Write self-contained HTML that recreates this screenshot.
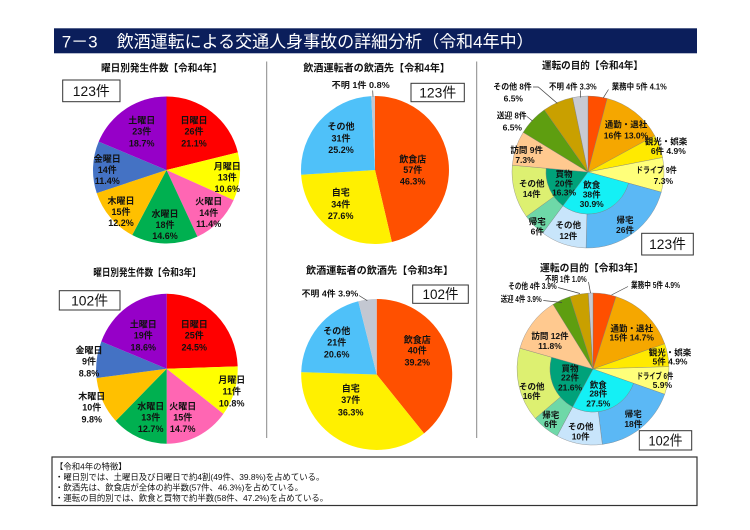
<!DOCTYPE html>
<html><head><meta charset="utf-8"><style>
html,body{margin:0;padding:0;background:#fff;}
svg{display:block;font-family:"Liberation Sans","Noto Sans CJK JP",sans-serif;}
.l{font-size:9px;font-weight:bold;fill:#111;text-anchor:middle;dominant-baseline:central;}
.s{font-size:8.5px;font-weight:bold;fill:#111;dominant-baseline:central;}
.sm{font-size:8.5px;font-weight:bold;fill:#111;text-anchor:middle;dominant-baseline:central;}
.t{font-size:10px;font-weight:bold;fill:#111;dominant-baseline:central;}
.b{font-size:14px;fill:#111;text-anchor:middle;dominant-baseline:central;}
.n{font-size:8.4px;fill:#111;dominant-baseline:central;}
</style></head><body>
<svg width="750" height="530" viewBox="0 0 750 530" xmlns="http://www.w3.org/2000/svg">
<rect width="750" height="530" fill="#fff"/>
<!-- title -->
<rect x="54" y="28.3" width="643" height="25" fill="#0B1E5B"/>
<text x="61.7" y="47.5" font-size="17" fill="#fff">7－3</text>
<text x="116.7" y="47.5" font-size="17" fill="#fff">飲酒運転による交通人身事故の詳細分析（令和4年中）</text>

<!-- separators -->
<line x1="266.7" y1="61.5" x2="266.7" y2="438" stroke="#888" stroke-width="1"/>
<line x1="476.7" y1="61.5" x2="476.7" y2="438" stroke="#888" stroke-width="1"/>

<!-- subtitles -->
<text class="t" x="101" y="69" textLength="121" lengthAdjust="spacingAndGlyphs">曜日別発生件数【令和4年】</text>
<text class="t" x="303.3" y="69" textLength="146.7" lengthAdjust="spacingAndGlyphs">飲酒運転者の飲酒先【令和4年】</text>
<text class="t" x="542" y="66.5" textLength="101" lengthAdjust="spacingAndGlyphs">運転の目的【令和4年】</text>
<text class="t" x="93.3" y="273.3" textLength="107.4" lengthAdjust="spacingAndGlyphs">曜日別発生件数【令和3年】</text>
<text class="t" x="306" y="271.7" textLength="147.3" lengthAdjust="spacingAndGlyphs">飲酒運転者の飲酒先【令和3年】</text>
<text class="t" x="540" y="269" textLength="103.3" lengthAdjust="spacingAndGlyphs">運転の目的【令和3年】</text>

<!-- Pie 1: day R4 -->
<g>
<path d="M166.5,170 L166.5,96.5 A73.5,73.5 0 0 1 237.85,152.34 Z" fill="#FF0000"/>
<path d="M166.5,170 L237.85,152.34 A73.5,73.5 0 0 1 233.57,200.07 Z" fill="#FFFF00"/>
<path d="M166.5,170 L233.57,200.07 A73.5,73.5 0 0 1 197.42,236.68 Z" fill="#FF66B3"/>
<path d="M166.5,170 L197.42,236.68 A73.5,73.5 0 0 1 132.21,235.01 Z" fill="#00B050"/>
<path d="M166.5,170 L132.21,235.01 A73.5,73.5 0 0 1 96.71,193.07 Z" fill="#FFC000"/>
<path d="M166.5,170 L96.71,193.07 A73.5,73.5 0 0 1 98.69,141.65 Z" fill="#4472C4"/>
<path d="M166.5,170 L98.69,141.65 A73.5,73.5 0 0 1 166.5,96.5 Z" fill="#9600C8"/>
</g>
<text class="l" x="194" y="120.7">日曜日</text><text class="l" x="194" y="131.7">26件</text><text class="l" x="194" y="143.3">21.1%</text>
<text class="l" x="141.7" y="120.7">土曜日</text><text class="l" x="141.7" y="131.7">23件</text><text class="l" x="141.7" y="143.3">18.7%</text>
<text class="l" x="227.3" y="166.7">月曜日</text><text class="l" x="227.3" y="177.7">13件</text><text class="l" x="227.3" y="189">10.6%</text>
<text class="l" x="107.3" y="159">金曜日</text><text class="l" x="107.3" y="170">14件</text><text class="l" x="107.3" y="181">11.4%</text>
<text class="l" x="208.7" y="201.7">火曜日</text><text class="l" x="208.7" y="213">14件</text><text class="l" x="208.7" y="224">11.4%</text>
<text class="l" x="165" y="214">水曜日</text><text class="l" x="165" y="225">18件</text><text class="l" x="165" y="236">14.6%</text>
<text class="l" x="121" y="201">木曜日</text><text class="l" x="121" y="212">15件</text><text class="l" x="121" y="223">12.2%</text>
<rect x="62.7" y="80" width="57.3" height="21.7" fill="#fff" stroke="#333" stroke-width="1"/>
<text class="b" x="91.3" y="91" textLength="37" lengthAdjust="spacingAndGlyphs">123件</text>

<!-- Pie 2: drink place R4 -->
<g>
<path d="M375,170 L375,96 A74,74 0 0 1 391.86,242.05 Z" fill="#FF5000"/>
<path d="M375,170 L391.86,242.05 A74,74 0 0 1 301.15,174.72 Z" fill="#FFF000"/>
<path d="M375,170 L301.15,174.72 A74,74 0 0 1 371.22,96.1 Z" fill="#4FC1F9"/>
<path d="M375,170 L371.22,96.1 A74,74 0 0 1 375,96 Z" fill="#C3C7D1"/>
</g>
<text class="l" x="412.7" y="159.3">飲食店</text><text class="l" x="412.7" y="170">57件</text><text class="l" x="412.7" y="181.7">46.3%</text>
<text class="l" x="340.7" y="192.7">自宅</text><text class="l" x="340.7" y="204.7">34件</text><text class="l" x="340.7" y="216">27.6%</text>
<text class="l" x="341" y="126.7">その他</text><text class="l" x="341" y="138.7">31件</text><text class="l" x="341" y="150">25.2%</text>
<text class="s" x="331.7" y="85" textLength="58" lengthAdjust="spacingAndGlyphs">不明 1件 0.8%</text>
<line x1="372.7" y1="90.5" x2="373" y2="96.5" stroke="#444" stroke-width="0.7"/>
<rect x="411" y="83.3" width="53.3" height="18.4" fill="#fff" stroke="#333" stroke-width="1"/>
<text class="b" x="437.7" y="92.5" textLength="37" lengthAdjust="spacingAndGlyphs">123件</text>

<!-- Pie 3: purpose R4 -->
<g stroke="#7a7a7a" stroke-width="0.35">
<path d="M588,172 L588,96 A76,76 0 0 1 607.20,98.46 Z" fill="#FF4F00"/>
<path d="M588,172 L607.20,98.46 A76,76 0 0 1 654.77,135.69 Z" fill="#F5A700"/>
<path d="M588,172 L654.77,135.69 A76,76 0 0 1 662.61,157.53 Z" fill="#FFEA00"/>
<path d="M588,172 L662.61,157.53 A76,76 0 0 1 661.29,192.14 Z" fill="#FFFF7A"/>
<path d="M661.29,192.14 A76,76 0 0 1 586.06,247.97 L586.93,213.99 A42,42 0 0 0 628.50,183.13 Z" fill="#5BB8F5"/>
<path d="M586.06,247.97 A76,76 0 0 1 542.70,233.03 L562.97,205.73 A42,42 0 0 0 586.93,213.99 Z" fill="#C8E5FB"/>
<path d="M542.70,233.03 A76,76 0 0 1 526.40,216.52 L553.96,196.60 A42,42 0 0 0 562.97,205.73 Z" fill="#6ED8A8"/>
<path d="M526.40,216.52 A76,76 0 0 1 512.30,165.21 L546.17,168.25 A42,42 0 0 0 553.96,196.60 Z" fill="#DDF071"/>
<path d="M588,172 L628.50,183.13 A42,42 0 0 1 562.97,205.73 Z" fill="#14F0F5"/>
<path d="M588,172 L562.97,205.73 A42,42 0 0 1 546.17,168.25 Z" fill="#00A27A"/>
<path d="M588,172 L512.30,165.21 A76,76 0 0 1 523.17,132.33 Z" fill="#FFC98F"/>
<path d="M588,172 L523.17,132.33 A76,76 0 0 1 544.28,109.84 Z" fill="#5E9E10"/>
<path d="M588,172 L544.28,109.84 A76,76 0 0 1 572.58,97.58 Z" fill="#C9A000"/>
<path d="M588,172 L572.58,97.58 A76,76 0 0 1 588,96 Z" fill="#C8CAD2"/>
</g>
<g stroke="#444" stroke-width="0.7" fill="none">
<line x1="608.5" y1="89.5" x2="603.3" y2="97.8"/>
<line x1="580.5" y1="90.5" x2="580.5" y2="97.5"/>
<polyline points="533,87 538.3,87 557.3,103.3"/>
<polyline points="527,116.5 532.5,121"/>
</g>
<text class="s" x="611.7" y="86.7" textLength="55" lengthAdjust="spacingAndGlyphs">業務中 5件 4.1%</text>
<text class="s" x="549" y="86.7" textLength="47.7" lengthAdjust="spacingAndGlyphs">不明 4件 3.3%</text>
<text class="s" x="493.3" y="86.7" textLength="38.4" lengthAdjust="spacingAndGlyphs">その他 8件</text>
<text class="sm" x="513.3" y="98.3">6.5%</text>
<text class="s" x="496.7" y="115.7" textLength="30" lengthAdjust="spacingAndGlyphs">送迎 8件</text>
<text class="sm" x="512.3" y="127.3">6.5%</text>
<text class="sm" x="626" y="124.3">通勤・退社</text>
<text class="sm" x="626" y="135.7">16件 13.0%</text>
<text class="sm" x="666" y="141.7">観光・娯楽</text>
<text class="sm" x="668.3" y="151">6件 4.9%</text>
<text class="s" x="636" y="170" textLength="40.7" lengthAdjust="spacingAndGlyphs">ドライブ 9件</text>
<text class="s" x="673" y="181" text-anchor="end">7.3%</text>
<text class="sm" x="526.7" y="150">訪問 9件</text>
<text class="sm" x="525" y="160">7.3%</text>
<text class="sm" x="531.7" y="183.3">その他</text>
<text class="sm" x="531.7" y="194">14件</text>
<text class="sm" x="564" y="174">買物</text><text class="sm" x="564" y="183.3">20件</text><text class="sm" x="564" y="192.7">16.3%</text>
<text class="sm" x="591.7" y="185">飲食</text><text class="sm" x="591.7" y="194.3">38件</text><text class="sm" x="591.7" y="204">30.9%</text>
<text class="sm" x="625" y="220">帰宅</text><text class="sm" x="625" y="230">26件</text>
<text class="sm" x="568.3" y="225">その他</text><text class="sm" x="568.3" y="236">12件</text>
<text class="sm" x="537.3" y="221.7">帰宅</text><text class="sm" x="537.3" y="231.7">6件</text>
<rect x="641.7" y="233.3" width="51.6" height="21.7" fill="#fff" stroke="#333" stroke-width="1"/>
<text class="b" x="667.5" y="244.2" textLength="36.7" lengthAdjust="spacingAndGlyphs">123件</text>

<!-- Pie 4: day R3 -->
<g>
<path d="M166.7,368.7 L166.7,293.7 A71,75 0 0 1 237.67,366.39 Z" fill="#FF0000"/>
<path d="M166.7,368.7 L237.67,366.39 A71,75 0 0 1 223.36,413.90 Z" fill="#FFFF00"/>
<path d="M166.7,368.7 L223.36,413.90 A71,75 0 0 1 166.7,443.7 Z" fill="#FF66B3"/>
<path d="M166.7,368.7 L166.7,443.7 A71,75 0 0 1 115.73,420.91 Z" fill="#00B050"/>
<path d="M166.7,368.7 L115.73,420.91 A71,75 0 0 1 96.54,378 Z" fill="#FFC000"/>
<path d="M166.7,368.7 L96.54,378 A71,75 0 0 1 101.32,341.5 Z" fill="#4472C4"/>
<path d="M166.7,368.7 L101.32,341.5 A71,75 0 0 1 166.7,293.7 Z" fill="#9600C8"/>
</g>
<text class="l" x="194.3" y="324.3">日曜日</text><text class="l" x="194.3" y="335.7">25件</text><text class="l" x="194.3" y="347.7">24.5%</text>
<text class="l" x="143.3" y="324.3">土曜日</text><text class="l" x="143.3" y="335.7">19件</text><text class="l" x="143.3" y="347.7">18.6%</text>
<text class="l" x="231.7" y="380">月曜日</text><text class="l" x="231.7" y="391.7">11件</text><text class="l" x="231.7" y="403.3">10.8%</text>
<text class="l" x="89" y="350.7">金曜日</text><text class="l" x="89" y="361.7">9件</text><text class="l" x="89" y="373.3">8.8%</text>
<text class="l" x="91.7" y="396.7">木曜日</text><text class="l" x="91.7" y="407.7">10件</text><text class="l" x="91.7" y="419.3">9.8%</text>
<text class="l" x="150.7" y="406.7">水曜日</text><text class="l" x="150.7" y="417.3">13件</text><text class="l" x="150.7" y="429">12.7%</text>
<text class="l" x="182.7" y="406.7">火曜日</text><text class="l" x="182.7" y="417.3">15件</text><text class="l" x="182.7" y="429">14.7%</text>
<rect x="59.3" y="290.7" width="60.7" height="19.3" fill="#fff" stroke="#333" stroke-width="1"/>
<text class="b" x="89.6" y="300.5" textLength="37" lengthAdjust="spacingAndGlyphs">102件</text>

<!-- Pie 5: drink place R3 -->
<g>
<path d="M376.7,374.5 L376.7,299 A75.5,75.5 0 0 1 424.03,433.32 Z" fill="#FF5000"/>
<path d="M376.7,374.5 L424.03,433.32 A75.5,75.5 0 0 1 301.24,372.17 Z" fill="#FFF000"/>
<path d="M376.7,374.5 L301.24,372.17 A75.5,75.5 0 0 1 358.28,301.28 Z" fill="#4FC1F9"/>
<path d="M376.7,374.5 L358.28,301.28 A75.5,75.5 0 0 1 376.7,299 Z" fill="#C3C7D1"/>
</g>
<text class="l" x="417.3" y="340">飲食店</text><text class="l" x="417.3" y="350.7">40件</text><text class="l" x="417.3" y="362.7">39.2%</text>
<text class="l" x="350.7" y="388.3">自宅</text><text class="l" x="350.7" y="400">37件</text><text class="l" x="350.7" y="412.7">36.3%</text>
<text class="l" x="336.7" y="331">その他</text><text class="l" x="336.7" y="342.3">21件</text><text class="l" x="336.7" y="354.3">20.6%</text>
<text class="s" x="301.7" y="293.3" textLength="56.6" lengthAdjust="spacingAndGlyphs">不明 4件 3.9%</text>
<line x1="359" y1="295.5" x2="367.3" y2="300.7" stroke="#444" stroke-width="0.7"/>
<rect x="412.7" y="285" width="55.6" height="18.3" fill="#fff" stroke="#333" stroke-width="1"/>
<text class="b" x="440.5" y="294.2" textLength="36" lengthAdjust="spacingAndGlyphs">102件</text>

<!-- Pie 6: purpose R3 -->
<g stroke="#7a7a7a" stroke-width="0.35">
<path d="M593,369 L593,293 A76,76 0 0 1 616.04,296.58 Z" fill="#FF4F00"/>
<path d="M593,369 L616.04,296.58 A76,76 0 0 1 664.68,343.74 Z" fill="#F5A700"/>
<path d="M593,369 L664.68,343.74 A76,76 0 0 1 668.96,366.66 Z" fill="#FFEA00"/>
<path d="M593,369 L668.96,366.66 A76,76 0 0 1 664.68,394.26 Z" fill="#FFFF7A"/>
<path d="M664.68,394.26 A76,76 0 0 1 602.34,444.42 L598.28,411.67 A43,43 0 0 0 633.56,383.29 Z" fill="#5BB8F5"/>
<path d="M602.34,444.42 A76,76 0 0 1 557.05,435.96 L572.66,406.88 A43,43 0 0 0 598.28,411.67 Z" fill="#C8E5FB"/>
<path d="M557.05,435.96 A76,76 0 0 1 535.28,418.45 L560.35,396.98 A43,43 0 0 0 572.66,406.88 Z" fill="#6ED8A8"/>
<path d="M535.28,418.45 A76,76 0 0 1 519.90,348.20 L551.64,357.23 A43,43 0 0 0 560.35,396.98 Z" fill="#DDF071"/>
<path d="M593,369 L633.56,383.29 A43,43 0 0 1 572.66,406.88 Z" fill="#14F0F5"/>
<path d="M593,369 L572.66,406.88 A43,43 0 0 1 551.64,357.23 Z" fill="#00A27A"/>
<path d="M593,369 L519.90,348.20 A76,76 0 0 1 552.99,304.38 Z" fill="#FFC98F"/>
<path d="M593,369 L552.99,304.38 A76,76 0 0 1 569.96,296.58 Z" fill="#5E9E10"/>
<path d="M593,369 L569.96,296.58 A76,76 0 0 1 588.32,293.14 Z" fill="#C9A000"/>
<path d="M593,369 L588.32,293.14 A76,76 0 0 1 593,293 Z" fill="#C8CAD2"/>
</g>
<g stroke="#444" stroke-width="0.7" fill="none">
<line x1="588.5" y1="282" x2="590.5" y2="293"/>
<line x1="558" y1="287.5" x2="580" y2="293.5"/>
<line x1="543.3" y1="300.5" x2="562" y2="302.5"/>
<line x1="628" y1="286.5" x2="611.5" y2="295"/>
</g>
<text class="s" x="545" y="279" textLength="41.7" lengthAdjust="spacingAndGlyphs">不明 1件 1.0%</text>
<text class="s" x="508.3" y="286" textLength="48.4" lengthAdjust="spacingAndGlyphs">その他 4件 3.9%</text>
<text class="s" x="500.7" y="299" textLength="41" lengthAdjust="spacingAndGlyphs">送迎 4件 3.9%</text>
<text class="s" x="631" y="285" textLength="49" lengthAdjust="spacingAndGlyphs">業務中 5件 4.9%</text>
<text class="sm" x="631.7" y="328.3">通勤・退社</text>
<text class="sm" x="631.7" y="337.3">15件 14.7%</text>
<text class="sm" x="670" y="352.3">観光・娯楽</text>
<text class="sm" x="670" y="361.7">5件 4.9%</text>
<text class="s" x="636.7" y="376" textLength="36.6" lengthAdjust="spacingAndGlyphs">ドライブ 6件</text>
<text class="s" x="672" y="385" text-anchor="end">5.9%</text>
<text class="sm" x="633.3" y="414">帰宅</text><text class="sm" x="633.3" y="424">18件</text>
<text class="sm" x="580.7" y="426.7">その他</text><text class="sm" x="580.7" y="436.7">10件</text>
<text class="sm" x="550.7" y="415">帰宅</text><text class="sm" x="550.7" y="424">6件</text>
<text class="sm" x="531.7" y="386.7">その他</text><text class="sm" x="531.7" y="396">16件</text>
<text class="sm" x="570" y="368.3">買物</text><text class="sm" x="570" y="377.3">22件</text><text class="sm" x="570" y="387.3">21.6%</text>
<text class="sm" x="598.3" y="385">飲食</text><text class="sm" x="598.3" y="393.3">28件</text><text class="sm" x="598.3" y="403.3">27.5%</text>
<text class="sm" x="550" y="336">訪問 12件</text><text class="sm" x="550" y="346">11.8%</text>
<rect x="639.3" y="430.7" width="52.4" height="19.3" fill="#fff" stroke="#333" stroke-width="1"/>
<text class="b" x="665.5" y="440.5" textLength="34" lengthAdjust="spacingAndGlyphs">102件</text>

<!-- bottom note -->
<rect x="52" y="457" width="645" height="48.5" fill="#fff" stroke="#333" stroke-width="1.2"/>
<text class="n" x="55" y="466.5">【令和4年の特徴】</text>
<text class="n" x="55" y="477">・曜日別では、土曜日及び日曜日で約4割(49件、39.8%)を占めている。</text>
<text class="n" x="55" y="487.5">・飲酒先は、飲食店が全体の約半数(57件、46.3%)を占めている。</text>
<text class="n" x="55" y="498">・運転の目的別では、飲食と買物で約半数(58件、47.2%)を占めている。</text>
</svg>
</body></html>
